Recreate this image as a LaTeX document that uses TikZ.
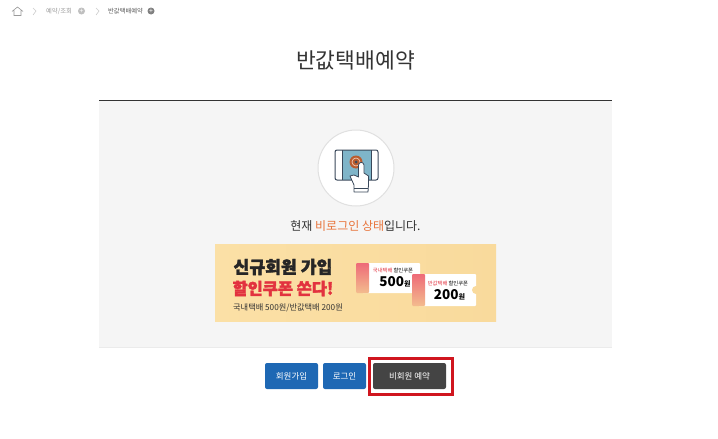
\documentclass[tikz,border=0pt]{standalone}
\usepackage{fontspec}
\setmainfont{Noto Sans CJK KR}
\newfontfamily\heavyfont[BoldFeatures={FakeBold=2}]{Noto Sans CJK KR}
\usetikzlibrary{arrows.meta}
\definecolor{panelgray}{HTML}{F5F5F5}
\definecolor{btnblue}{HTML}{1E68B4}
\definecolor{btndark}{HTML}{444444}
\definecolor{accentred}{HTML}{D0161F}
\definecolor{orangetext}{HTML}{E8743B}
\definecolor{bannerleft}{HTML}{FBE0A6}
\definecolor{bannerright}{HTML}{F9DA9C}
\definecolor{bannerred}{HTML}{E2323F}
\definecolor{couponred}{HTML}{EE6A78}
\definecolor{coupontan}{HTML}{F3BC8E}
\definecolor{screenblue}{HTML}{7FB5C9}
\definecolor{icondark}{HTML}{39485A}
\definecolor{crumbgray}{HTML}{9A9A9A}
\tikzset{
  btn/.style={rounded corners=2pt, inner sep=0pt, text=white, font=\fontsize{8.5}{10}\selectfont},
  crumb/.style={inner sep=0pt, anchor=west, font=\fontsize{6.3}{7}\selectfont},
  coupontext/.style={inner sep=0pt, font=\fontsize{5.3}{6}\selectfont},
  couponnum/.style={inner sep=0pt, font=\fontsize{13.5}{15}\bfseries\selectfont},
  bannerhead/.style={inner sep=0pt, font=\fontsize{17.2}{20}\heavyfont\bfseries\selectfont},
  plusdot/.style={circle, inner sep=0pt, minimum size=7pt, text=white, font=\fontsize{7}{7}\selectfont},
  couponstrip/.style={top color=couponred, bottom color=coupontan, rounded corners=1pt},
}
\begin{document}
\begin{tikzpicture}[x=1pt, y=-1pt]
  \useasboundingbox[fill=white] (0, 0) rectangle (718, 439);

  % breadcrumb
  \draw[crumbgray, line width=0.6pt] (12, 11.5) -- (17.5, 7) -- (23, 11.5) (14, 10.5) -- (14, 15.5) -- (21, 15.5) -- (21, 10.5);
  \draw[black!20, line width=0.6pt] (33, 8) -- (36, 11) -- (33, 15);
  \node[crumb, text=crumbgray] (crumbone) at (46, 11) {예약/조회};
  \node[plusdot, fill=black!25] (dotone) at (81.5, 11) {+};
  \draw[black!20, line width=0.6pt] (96, 8) -- (99, 11) -- (96, 15);
  \node[crumb, text=black!65] (crumbtwo) at (108, 11) {반값택배예약};
  \node[plusdot, fill=black!50] (dottwo) at (151, 11) {+};

  % title
  \node[inner sep=0pt, text=black!80, font=\fontsize{21.5}{26}\selectfont] (title) at (355.5, 60) {반값택배예약};

  % panel
  \fill[panelgray] (99, 100) rectangle (612, 347);
  \draw[black!80, line width=1pt] (99, 100.5) -- (612, 100.5);
  \draw[black!8] (99, 347) -- (612, 347);

  % touch icon
  \draw[fill=white, draw=black!12, line width=1pt] (356, 168) circle (38);
  \fill[screenblue] (342, 150) rectangle (371, 180);
  \draw[icondark, line width=1pt, rounded corners=2pt] (335, 150) rectangle (378, 180);
  \draw[icondark, line width=0.8pt] (342, 150) -- (342, 180) (371, 150) -- (371, 180);
  \fill[orangetext!80!black] (356, 162) circle (6.5);
  \draw[white!70!orangetext, line width=0.6pt] (356, 162) circle (4);
  \fill[icondark] (356, 162) circle (1.5);
  \draw[icondark, fill=white, line width=0.8pt, line join=round]
    (358.5, 165) -- (358.5, 177) -- (354, 175) -- (350, 176) -- (354, 185) -- (354, 192)
    -- (368, 192) -- (368.5, 185) -- (368.5, 176) -- (364, 173) -- (364, 165)
    .. controls (363.5, 161.5) and (359, 161.5) .. (358.5, 165) -- cycle;
  \draw[icondark, line width=0.6pt] (354, 188.5) -- (368, 188.5);

  % status line
  \node[inner sep=0pt, text=black!80, font=\fontsize{12}{14}\selectfont] (status) at (355.5, 226.5) {현재 \textcolor{orangetext}{비로그인 상태}입니다.};

  % banner
  \shade[left color=bannerleft, right color=bannerright] (215, 244) rectangle (496, 321);
  \node[bannerhead, text=black!85] (bannerone) at (283, 267) {신규회원 가입};
  \node[bannerhead, text=bannerred, font=\fontsize{16.4}{20}\heavyfont\bfseries\selectfont] (bannertwo) at (283, 288.5) {할인쿠폰 쏜다!};
  \node[inner sep=0pt, text=black!80, font=\fontsize{8.2}{10}\selectfont] (bannerthree) at (288, 308) {국내택배 500원/반값택배 200원};

  % coupons
  \fill[white, rounded corners=1pt] (362, 263) rectangle (420, 293);
  \shade[couponstrip] (356, 263) rectangle (369, 293);
  \node[coupontext] (coupononetop) at (393, 270) {\textcolor{bannerred}{국내택배} 할인쿠폰};
  \node[couponnum] (couponone) at (395, 282) {500\fontsize{7}{8}\selectfont 원};
  \fill[white, rounded corners=1pt] (418, 274) rectangle (476, 306);
  \fill[bannerright] (476, 290) circle (4);
  \shade[couponstrip] (412, 274) rectangle (425, 306);
  \node[coupontext] (coupontwotop) at (448, 283) {\textcolor{bannerred}{반값택배} 할인쿠폰};
  \node[couponnum] (coupontwo) at (449.5, 295) {200\fontsize{7}{8}\selectfont 원};

  % buttons
  \node[btn, fill=btnblue, minimum width=53pt, minimum height=26pt] (signup) at (291.5, 376) {회원가입};
  \node[btn, fill=btnblue, minimum width=43pt, minimum height=26pt] (login) at (344.5, 376) {로그인};
  \node[btn, fill=btndark, minimum width=73pt, minimum height=26pt] (guest) at (409.5, 376) {비회원 예약};
  \draw[accentred, line width=3pt] (369.5, 358.5) rectangle (452.5, 394.5);
\end{tikzpicture}
\end{document}
